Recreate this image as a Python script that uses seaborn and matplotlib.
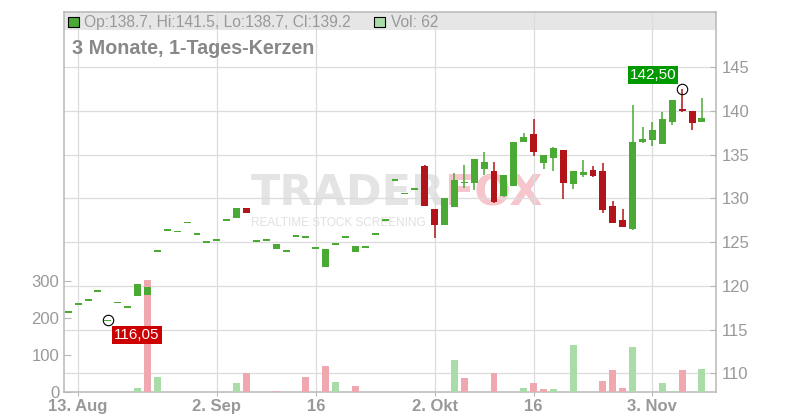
import numpy as np
import pandas as pd
import matplotlib
matplotlib.use('Agg')
import matplotlib.pyplot as plt
from matplotlib.patches import Rectangle
import seaborn as sns

# Handelstage 12. Aug - 10. Nov 2025
dates = pd.bdate_range('2025-08-12', '2025-11-10')

opens = [117.0, 117.9, 118.35, 119.4, 116.05, 118.1, 117.55, 118.8, 118.95, 123.95,
         126.35, 126.2, 127.25, 125.9, 125.0, 125.2, 127.5, 127.8, 128.9, 125.1,
         125.2, 124.2, 124.0, 125.7, 125.55, 124.3, 122.2, 124.8, 125.55, 123.9,
         124.4, 125.9, 127.5, 132.05, 130.55, 131.1, 133.7, 128.8, 126.9, 129.05,
         131.8, 131.8, 133.35, 133.1, 130.25, 131.45, 136.4, 137.35, 134.05, 134.65,
         135.5, 131.65, 132.7, 133.2, 133.1, 129.1, 127.5, 126.5, 136.4, 136.65,
         136.25, 138.7, 140.2, 140.0, 138.7]
highs = [117.0, 117.9, 118.35, 119.4, 116.05, 118.1, 117.55, 120.2, 119.9, 123.95,
         126.35, 126.2, 127.25, 125.9, 125.0, 125.2, 127.5, 128.9, 128.9, 125.1,
         125.2, 124.8, 124.0, 125.7, 125.55, 124.3, 124.2, 124.8, 125.55, 124.6,
         124.4, 125.9, 127.5, 132.05, 130.55, 131.1, 133.8, 128.8, 130.05, 132.9,
         133.8, 134.5, 135.3, 134.15, 132.65, 136.4, 137.4, 139.05, 134.95, 135.85,
         135.5, 133.1, 134.4, 133.7, 134.0, 129.7, 128.8, 140.65, 138.1, 138.7,
         139.85, 141.2, 142.5, 140.0, 141.5]
lows = [117.0, 117.9, 118.35, 119.4, 116.05, 118.1, 117.55, 118.8, 118.95, 123.95,
        126.35, 126.2, 127.25, 125.9, 125.0, 125.2, 127.5, 127.8, 128.35, 125.1,
        125.2, 124.2, 124.0, 125.7, 125.55, 124.3, 122.2, 124.8, 125.55, 123.9,
        124.4, 125.9, 127.5, 132.05, 130.55, 131.1, 129.15, 125.5, 126.9, 129.05,
        131.2, 130.95, 132.65, 129.5, 130.15, 131.45, 136.4, 134.85, 133.4, 133.15,
        129.9, 131.1, 132.4, 132.45, 128.35, 127.2, 126.75, 126.4, 136.3, 136.0,
        136.25, 138.4, 139.9, 137.8, 138.7]
closes = [117.0, 117.9, 118.35, 119.4, 116.05, 118.1, 117.55, 120.2, 119.9, 123.95,
          126.35, 126.2, 127.25, 125.9, 125.0, 125.2, 127.5, 128.9, 128.35, 125.1,
          125.2, 124.8, 124.0, 125.7, 125.55, 124.3, 124.2, 124.8, 125.55, 124.6,
          124.4, 125.9, 127.5, 132.05, 130.55, 131.1, 129.15, 127.0, 130.05, 132.1,
          131.8, 134.5, 134.15, 129.6, 132.65, 136.4, 137.0, 135.3, 134.95, 135.75,
          131.8, 133.1, 133.0, 132.6, 128.7, 127.2, 126.75, 136.4, 136.75, 137.8,
          139.05, 141.2, 140.0, 138.65, 139.2]
volumes = [0, 0, 0, 0, 0, 0, 0, 12, 302, 41,
           0, 0, 0, 0, 0, 0, 0, 25, 52, 0,
           0, 4, 0, 0, 41, 0, 71, 28, 0, 17,
           0, 0, 0, 0, 0, 0, 0, 0, 0, 87,
           38, 0, 0, 52, 0, 0, 12, 25, 9, 9,
           0, 127, 0, 0, 30, 60, 12, 122, 0, 0,
           25, 4, 60, 0, 62]

tick_dates = ['2025-08-13', '2025-09-02', '2025-09-16', '2025-10-02', '2025-10-16', '2025-11-03']
tick_labels = ['13. Aug', '2. Sep', '16', '2. Okt', '16', '3. Nov']
price_ticks = [110, 115, 120, 125, 130, 135, 140, 145]
vol_ticks = [0, 100, 200, 300]

GREEN = '#4aaa34'
RED = '#b2141a'
GREY = '#999999'
LINE = '#b8b8b8'

sns.set_style('white')
plt.rcParams['font.family'] = ['Liberation Sans', 'DejaVu Sans']

fig = plt.figure(figsize=(8, 4.2), dpi=100)
ax = fig.add_axes([63.5 / 800, 1 - 392.3 / 420, (716 - 63.5) / 800, (392.3 - 12) / 420])
ax_vol = ax.twinx()
ax_c = ax.twinx()

x = np.arange(len(dates))
o, h, l, c = map(np.array, (opens, highs, lows, closes))

# Volumen (Farbe nach Schlusskurs ggü. Vortag)
vol_df = pd.DataFrame({'tag': x, 'vol': volumes, 'close': closes})
vol_df['dir'] = np.where(vol_df['close'].diff().fillna(0) >= 0, 'up', 'down')
vol_df = vol_df[vol_df['vol'] > 0]
sns.barplot(data=vol_df, x='tag', y='vol', hue='dir',
            palette={'up': '#aadcaa', 'down': '#f0a8b0'},
            native_scale=True, dodge=False, width=0.7, saturation=1,
            errorbar=None, legend=False, linewidth=0, ax=ax_vol)
ax_vol.set_xlabel('')
ax_vol.set_ylabel('')

# Kerzen
colors = np.where(c >= o, GREEN, RED)
ax_c.vlines(x, l, h, colors=colors, lw=1.1, zorder=2)
body = np.maximum(np.abs(c - o), 0.2)
ax_c.bar(x, body, bottom=(o + c) / 2 - body / 2, width=0.7, color=colors, linewidth=0, zorder=3)

# Hoch / Tief markieren
i_lo = int(np.argmin(l))
i_hi = int(np.argmax(h))
for i, v, dx, dy, fc in [(i_lo, l[i_lo], 21, -10.4, '#cc0000'), (i_hi, h[i_hi], -20.8, 9.9, '#009900')]:
    ax_c.plot(i, v, 'o', mfc='none', mec='black', ms=7.5, mew=0.8, zorder=5)
    ax_c.annotate(f'{v:.2f}'.replace('.', ','), (i, v), xytext=(dx, dy), textcoords='offset points',
                  ha='center', va='center', color='white', fontsize=11, zorder=6,
                  bbox=dict(boxstyle='square,pad=0.12', fc=fc, ec='none'))

# Achsen
ylim_price = (107.85, 151.27)
ax.set_ylim(ylim_price)
ax_c.set_ylim(ylim_price)
ax_vol.set_ylim(0, 1022)
ax.set_xlim(-0.48, 65.42)

ax.set_xticks([dates.get_loc(pd.Timestamp(d)) for d in tick_dates])
ax.set_xticklabels(tick_labels, fontweight='bold')
ax.set_yticks(price_ticks)
ax.yaxis.tick_right()
ax_vol.set_yticks(vol_ticks)
ax_vol.yaxis.tick_left()
for lbl in ax_vol.get_yticklabels():
    lbl.set_verticalalignment('center_baseline')

ax.grid(True, color='#dcdcdc', lw=0.9)
ax.set_axisbelow(True)
for s in ax.spines.values():
    s.set_visible(True)
    s.set_color(LINE)
    s.set_linewidth(1.1)
for s in ax_vol.spines.values():
    s.set_visible(False)
ax_c.axis('off')

ax.tick_params(axis='y', right=True, left=False, labelright=True, labelleft=False,
               direction='in', length=4, color=LINE, labelcolor=GREY, labelsize=12, pad=4.3)
ax.tick_params(axis='x', bottom=True, direction='out', length=3, color=LINE,
               labelcolor=GREY, labelsize=12, pad=2)
ax_vol.tick_params(axis='y', left=True, right=False, labelleft=True, labelright=False,
                   direction='in', length=5, color=LINE, labelcolor=GREY, labelsize=12, pad=3)

# Kopfzeile im Chart
ax.add_patch(Rectangle((0, 1 - 18 / 380.3), 1, 18 / 380.3, transform=ax.transAxes,
                       facecolor='#e6e6e6', edgecolor='none', zorder=0.2))

# Wasserzeichen
ax.text(0.585, 0.4925, 'TRADER', transform=ax.transAxes, ha='right', va='baseline',
        fontsize=31, fontweight='bold', family='DejaVu Sans', color='#e4e4e4', zorder=0.3)
ax.text(0.585, 0.4925, 'FOX', transform=ax.transAxes, ha='left', va='baseline',
        fontsize=31, fontweight='bold', family='DejaVu Sans', color='#f7c6cc', zorder=0.3)
ax.text(0.287, 0.436, 'REALTIME STOCK SCREENING', transform=ax.transAxes, ha='left',
        va='baseline', fontsize=8.5, color='#e0e0e0', zorder=0.3)

# Legende / Titel
header = f'Op:{o[-1]:.1f}, Hi:{h[-1]:.1f}, Lo:{l[-1]:.1f}, Cl:{c[-1]:.1f}'
fig.add_artist(Rectangle((68 / 800, 1 - 26.7 / 420), 11 / 800, 10 / 420, transform=fig.transFigure,
                         facecolor=GREEN, edgecolor='black', lw=0.8))
fig.text(84 / 800, 1 - 27.3 / 420, header, ha='left', va='baseline', fontsize=11.25, color=GREY)
fig.add_artist(Rectangle((374 / 800, 1 - 26.7 / 420), 11 / 800, 10 / 420, transform=fig.transFigure,
                         facecolor='#aadcaa', edgecolor='black', lw=0.8))
fig.text(391 / 800, 1 - 27.3 / 420, f'Vol: {volumes[-1]}', ha='left', va='baseline',
         fontsize=11.25, color=GREY)
fig.text(72 / 800, 1 - 54.5 / 420, '3 Monate, 1-Tages-Kerzen', ha='left', va='baseline',
         fontsize=14.2, fontweight='bold', color='#888888')

fig.savefig('out.png', dpi=100)
